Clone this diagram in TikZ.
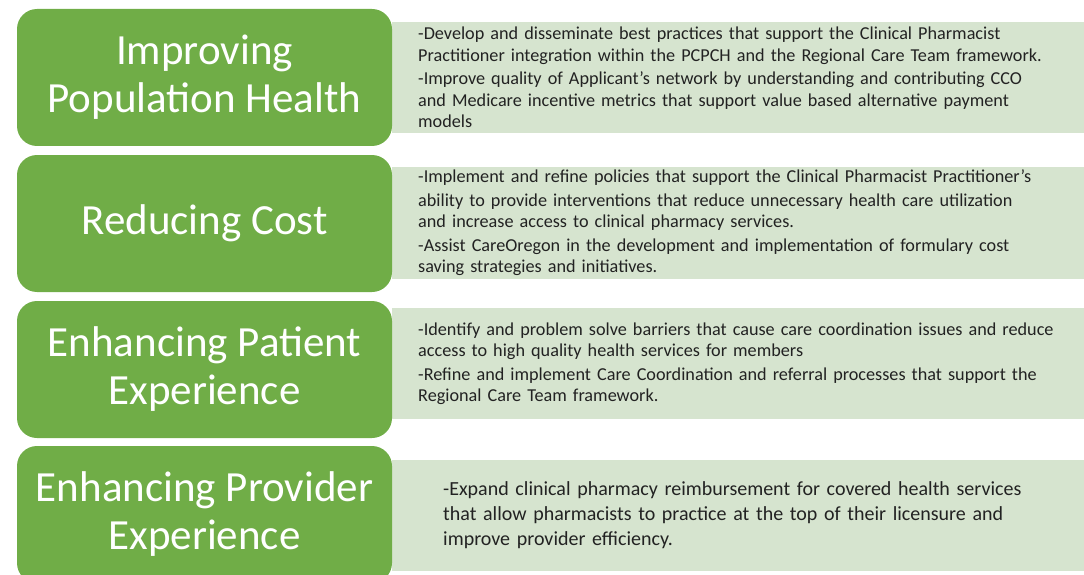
\documentclass[tikz,border=0pt]{standalone}
\usepackage{fontspec}
\setmainfont{Carlito}
\usepackage{xcolor}
\usetikzlibrary{positioning}
\definecolor{leafgreen}{HTML}{70AD47}
\definecolor{palegreen}{HTML}{D6E4CF}
\definecolor{bodyink}{HTML}{222222}

\begin{document}
\begin{tikzpicture}[
  x=1pt, y=-1pt,
  goal/.style={
    fill=leafgreen, rounded corners=20pt, text=white,
    minimum width=375pt, minimum height=137pt, align=center,
    font=\fontsize{43}{48}\selectfont
  },
  detail/.style={
    fill=palegreen, anchor=west, minimum width=692pt, minimum height=111pt,
    inner xsep=26pt, text width=650pt, align=left, text=bodyink,
    font=\fontsize{18.2}{21.5}\selectfont
  },
  wide/.style={inner xsep=51pt, text width=600pt, font=\fontsize{20}{25}\selectfont}
]
\useasboundingbox (0,0) rectangle (1084,575);
\clip (0,0) rectangle (1084,575);

% detail panels first, the goal boxes sit over their left edge
\node[detail] (detail1) at (392,77.5) {%
  -Develop and disseminate best practices that support the Clinical Pharmacist\\
  Practitioner integration within the PCPCH and the Regional Care Team framework.\\[2pt]
  -Improve quality of Applicant’s network by understanding and contributing CCO\\
  and Medicare incentive metrics that support value based alternative payment\\
  models};
\node[detail] (detail2) at (392,223) {%
  -Implement and refine policies that support the Clinical Pharmacist Practitioner’s\\[2pt]
  ability to provide interventions that reduce unnecessary health care utilization\\
  and increase access to clinical pharmacy services.\\[2pt]
  -Assist CareOregon in the development and implementation of formulary cost\\
  saving strategies and initiatives.};
\node[detail] (detail3) at (392,363.5) {%
  -Identify and problem solve barriers that cause care coordination issues and reduce\\
  access to high quality health services for members\\[2pt]
  -Refine and implement Care Coordination and referral processes that support the\\
  Regional Care Team framework.};
\node[detail, wide] (detail4) at (392,515) {%
  -Expand clinical pharmacy reimbursement for covered health services\\
  that allow pharmacists to practice at the top of their licensure and\\
  improve provider efficiency.};

\node[goal] (goal1) at (204.5,77.5)  {Improving\\Population Health};
\node[goal] (goal2) at (204.5,223.5) {Reducing Cost};
\node[goal] (goal3) at (204.5,369.5) {Enhancing Patient\\Experience};
\node[goal] (goal4) at (204.5,514.5) {Enhancing Provider\\Experience};

\end{tikzpicture}
\end{document}
